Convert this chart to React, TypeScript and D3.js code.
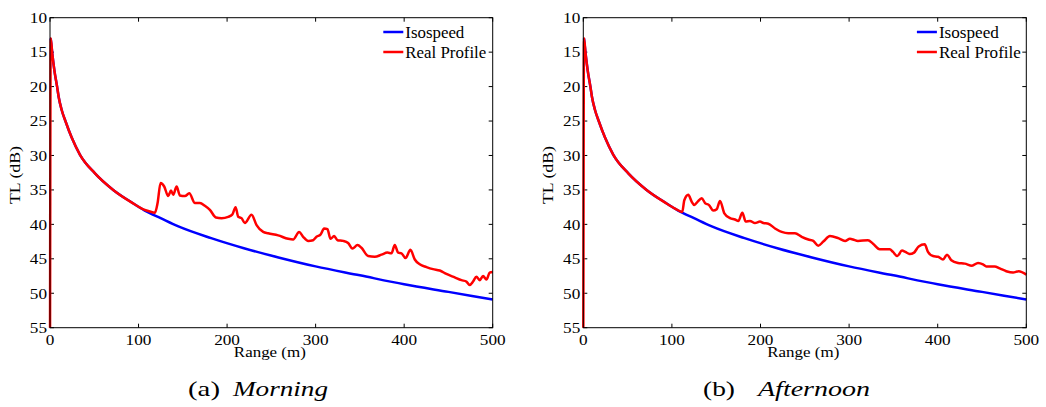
import React from 'react';
import * as d3 from 'd3';

// ---------- data ----------
const xTicks = [0, 100, 200, 300, 400, 500];
const yTicks = [10, 15, 20, 25, 30, 35, 40, 45, 50, 55];

// near-field part shared by both curves (range m, TL dB)
const earlyRange = [0.8, 2.6, 4.9, 8.0, 9.8, 13.2, 17.7, 24.5, 33.9, 50.8, 71.4, 92];
const earlyTL = [13, 15.2, 17.6, 20.0, 21.5, 23.4, 25.1, 27.4, 29.9, 32.6, 35.0, 36.8];

// isospeed far part
const isoRange = [107, 125, 145, 182, 220, 258, 300, 350, 400, 450, 500];
const isoTL = [38.0, 39.1, 40.3, 42.0, 43.5, 44.8, 46.1, 47.4, 48.7, 49.8, 50.9];

// real profile, morning
const morningRange = [107, 112, 118.5, 121.5, 124.9, 129, 133.5, 136.6, 139.2, 143, 146.7, 152.4, 157.3, 163.7, 169.3, 174.9, 180.6, 187.4, 193.8, 201.3, 205.8, 209.6, 212.6, 216.3, 220.1, 227.6, 233.3, 240.8, 246.4, 257.7, 269, 274.6, 281.4, 285.9, 291.6, 297.2, 301, 305.5, 309.6, 313.4, 316.8, 320.9, 324.7, 331.1, 336.7, 341.6, 347.3, 351.8, 359.3, 366.8, 374.4, 381.1, 385.7, 389.4, 393.2, 397, 401.5, 407.1, 412, 417.6, 425.2, 432.6, 440.2, 447.7, 457.1, 464.7, 470.3, 474, 477.8, 481.6, 485.3, 489.1, 492.9, 496.6, 500];
const morningTL = [37.9, 38.1, 38.3, 36.9, 34.0, 34.5, 35.9, 35.1, 35.7, 34.5, 35.8, 35.9, 35.5, 36.9, 36.9, 37.3, 37.9, 39.0, 39.1, 38.9, 38.6, 37.5, 38.9, 39.1, 39.8, 38.6, 40.1, 41.1, 41.3, 41.6, 42.1, 42.2, 41.1, 41.8, 42.4, 42.3, 41.8, 41.5, 40.6, 40.7, 42.1, 41.7, 42.3, 42.4, 42.7, 43.5, 43.0, 43.4, 44.6, 44.7, 44.4, 44.1, 44.2, 43.0, 44.1, 44.2, 44.9, 43.7, 45.1, 45.8, 46.2, 46.5, 46.7, 47.2, 47.7, 48.1, 48.3, 48.8, 48.3, 47.6, 48.1, 47.5, 48.0, 47.0, 46.9];

// real profile, afternoon
const afternoonRange = [103.5, 111.7, 114, 118.5, 122.3, 125.3, 129.1, 133.6, 137.4, 141.9, 146.7, 150.6, 154.3, 159.2, 165.6, 171.2, 175, 179.5, 183.3, 188.1, 193.8, 199.4, 203.2, 208.8, 216.4, 223.9, 231.4, 238.9, 246.5, 254, 259.6, 265.2, 270.9, 278.4, 287.8, 295.4, 301, 304.4, 310, 321.3, 327, 334.5, 345.8, 349.5, 354.4, 359.7, 363.4, 368.4, 373.3, 378.5, 385.3, 389, 394.7, 400.3, 406, 410.5, 415.4, 422.9, 430.5, 438.7, 445.5, 451.1, 454.9, 464.3, 470, 477.4, 485, 491.4, 500];
const afternoonTL = [37.7, 38.2, 36.5, 35.7, 36.7, 37.2, 36.7, 36.2, 36.9, 37.2, 38.0, 37.8, 36.6, 38.4, 39.1, 39.3, 39.5, 38.3, 39.6, 39.5, 39.8, 39.6, 39.8, 39.9, 40.6, 41.1, 41.3, 41.3, 41.8, 42.2, 42.4, 43.1, 42.5, 41.7, 42.0, 42.4, 42.1, 42.2, 42.4, 42.3, 42.8, 43.6, 43.6, 44.0, 44.6, 43.8, 44.0, 44.3, 44.1, 43.2, 42.9, 44.0, 44.6, 44.7, 45.1, 44.4, 45.2, 45.6, 45.7, 46.0, 45.6, 45.8, 46.1, 46.1, 46.4, 46.8, 47.0, 46.8, 47.3];

const redStart = { r: 0, tl: 60 };
const seriesNames = ['Isospeed', 'Real Profile'];
const seriesColors = ['#0000ff', '#ff0000'];
const captionTags = ['(a)', '(b)'];
const captionNames = ['Morning', 'Afternoon'];

type Pt = { r: number; tl: number };
const zip = (a: number[], b: number[]): Pt[] => a.map((r, i) => ({ r, tl: b[i] }));

const earlyPts = zip(earlyRange, earlyTL);
const isoPts = [...earlyPts, ...zip(isoRange, isoTL)];
const morningPts = [redStart, ...earlyPts, ...zip(morningRange, morningTL)];
const afternoonPts = [redStart, ...earlyPts, ...zip(afternoonRange, afternoonTL)];

const FONT = 'Liberation Serif, Times New Roman, Times, serif';
const TOP = 17.7;
const BOTTOM = 327.7;
const digitW = (t: number) => String(t).length * 8.6;

function Panel(props: {
  x0: number; x1: number; red: Pt[]; idx: number;
  xLabelW: number; legIsoW: number; legRealW: number;
  capTagX: number; capTagW: number; capNameX: number; capNameW: number;
}) {
  const { x0, x1, red, idx } = props;
  const x = d3.scaleLinear().domain([0, 500]).range([x0, x1]);
  const y = d3.scaleLinear().domain([10, 55]).range([TOP, BOTTOM]);
  const line = d3.line<Pt>().x(d => x(d.r)).y(d => y(d.tl)).curve(d3.curveMonotoneX);
  const clipId = `clip${idx}`;
  const tick = 4;
  const legX = x1 - 109.4;
  const legY = [32, 52];
  return (
    <g>
      <defs>
        <clipPath id={clipId}>
          <rect x={x0 - 3} y={TOP - 3} width={x1 - x0 + 6} height={BOTTOM - TOP + 3} />
        </clipPath>
      </defs>
      {xTicks.map(t => (
        <g key={'x' + t}>
          <line x1={x(t)} x2={x(t)} y1={BOTTOM} y2={BOTTOM - tick} stroke="#000" strokeWidth={1} />
          <line x1={x(t)} x2={x(t)} y1={TOP} y2={TOP + tick} stroke="#000" strokeWidth={1} />
          <text x={x(t)} y={345} textAnchor="middle" fontFamily={FONT} fontSize={15} fill="#000"
            textLength={digitW(t)} lengthAdjust="spacingAndGlyphs">{t}</text>
        </g>
      ))}
      {yTicks.map(t => (
        <g key={'y' + t}>
          <line x1={x0} x2={x0 + tick} y1={y(t)} y2={y(t)} stroke="#000" strokeWidth={1} />
          <line x1={x1} x2={x1 - tick} y1={y(t)} y2={y(t)} stroke="#000" strokeWidth={1} />
          <text x={x0 - 3} y={y(t)} textAnchor="end" dy="0.35em" fontFamily={FONT} fontSize={15} fill="#000"
            textLength={digitW(t)} lengthAdjust="spacingAndGlyphs">{t}</text>
        </g>
      ))}
      <g clipPath={`url(#${clipId})`}>
        <path d={line(isoPts) || ''} fill="none" stroke={seriesColors[0]} strokeWidth={2.5} strokeLinejoin="round" />
        <path d={line(red) || ''} fill="none" stroke={seriesColors[1]} strokeWidth={2.5} strokeLinejoin="round" />
      </g>
      <rect x={x0} y={TOP} width={x1 - x0} height={BOTTOM - TOP} fill="none" stroke="#000" strokeWidth={1} />
      {seriesNames.map((n, i) => (
        <g key={n}>
          <line x1={legX} x2={legX + 20} y1={legY[i]} y2={legY[i]} stroke={seriesColors[i]} strokeWidth={2.5} />
          <text x={legX + 22} y={legY[i] + 5.7} fontFamily={FONT} fontSize={16} fill="#000"
            textLength={i === 0 ? props.legIsoW : props.legRealW} lengthAdjust="spacingAndGlyphs">{n}</text>
        </g>
      ))}
      <text x={(x0 + x1) / 2 - 1.5} y={357} textAnchor="middle" fontFamily={FONT} fontSize={15.5}
        textLength={props.xLabelW} lengthAdjust="spacingAndGlyphs" fill="#000">Range (m)</text>
      <text transform={`translate(${x0 - 30},175) rotate(-90)`} textAnchor="middle" fontFamily={FONT}
        fontSize={15.5} textLength={58} lengthAdjust="spacingAndGlyphs" fill="#000">TL (dB)</text>
      <text x={props.capTagX} y={396} fontFamily={FONT} fontSize={21} fill="#000"
        textLength={props.capTagW} lengthAdjust="spacingAndGlyphs">{captionTags[idx]}</text>
      <text x={props.capNameX} y={396} fontFamily={FONT} fontStyle="italic" fontSize={21} fill="#000"
        textLength={props.capNameW} lengthAdjust="spacingAndGlyphs">{captionNames[idx]}</text>
    </g>
  );
}

export default function App() {
  return (
    <svg width={1046} height={407} style={{ position: 'absolute', left: 0, top: 0, background: '#fff' }}>
      <rect width={1046} height={407} fill="#fff" />
      <Panel x0={50} x1={492.7} red={morningPts} idx={0} xLabelW={72} legIsoW={59} legRealW={81}
        capTagX={188} capTagW={32} capNameX={233} capNameW={95} />
      <Panel x0={583.3} x1={1026.3} red={afternoonPts} idx={1} xLabelW={72} legIsoW={60} legRealW={82}
        capTagX={703} capTagW={32} capNameX={758} capNameW={112} />
    </svg>
  );
}
